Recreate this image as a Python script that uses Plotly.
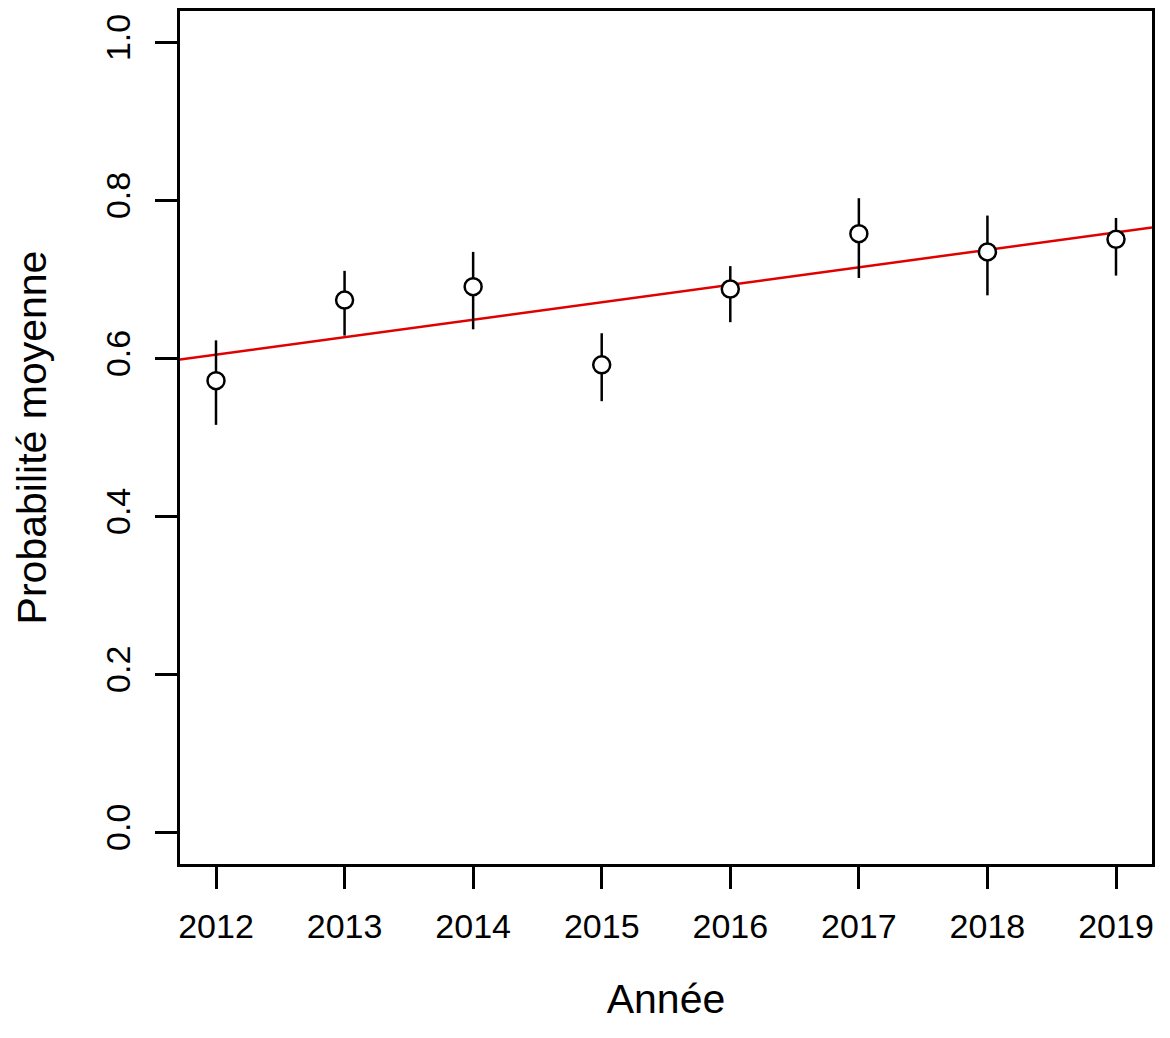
import plotly.graph_objects as go

# Mean probability per year, with lower / upper bounds of the interval
years = [2012, 2013, 2014, 2015, 2016, 2017, 2018, 2019]
prob_mean = [0.572, 0.674, 0.691, 0.592, 0.688, 0.758, 0.735, 0.751]
prob_low = [0.516, 0.629, 0.637, 0.546, 0.646, 0.702, 0.680, 0.705]
prob_high = [0.623, 0.711, 0.735, 0.632, 0.717, 0.803, 0.781, 0.778]

# Linear trend (fitted line) drawn across the whole x range
trend_at_2012 = 0.605
trend_slope = 0.0221

y_ticks = [0.0, 0.2, 0.4, 0.6, 0.8, 1.0]
y_tick_labels = ["0.0", "0.2", "0.4", "0.6", "0.8", "1.0"]

X_RANGE = [2011.72, 2019.28]
Y_RANGE = [-0.04, 1.04]

FONT = "Liberation Sans, Arial, sans-serif"

fig = go.Figure()

trend_x = X_RANGE
trend_y = [trend_at_2012 + trend_slope * (x - 2012) for x in trend_x]
fig.add_trace(go.Scatter(
    x=trend_x, y=trend_y, mode="lines",
    line=dict(color="#e00000", width=2.5),
    hoverinfo="skip",
))

fig.add_trace(go.Scatter(
    x=years, y=prob_mean, mode="markers",
    marker=dict(symbol="circle", size=17, color="white",
                line=dict(color="black", width=2.5)),
    error_y=dict(
        type="data", symmetric=False,
        array=[h - m for h, m in zip(prob_high, prob_mean)],
        arrayminus=[m - l for m, l in zip(prob_mean, prob_low)],
        color="black", thickness=2.5, width=0,
    ),
))

# page body keeps its default 8px margin, so the figure is a bit smaller
fig.update_layout(
    width=1154, height=1022,
    margin=dict(l=172, r=10, t=0, b=166),
    paper_bgcolor="white", plot_bgcolor="white",
    showlegend=False,
    font=dict(family=FONT, size=34, color="black"),
)

fig.update_xaxes(
    range=X_RANGE, tickvals=years, ticktext=[str(y) for y in years],
    ticks="outside", ticklen=22, tickwidth=2.5, tickcolor="black",
    showline=True, linecolor="black", linewidth=2.5, mirror=True,
    showgrid=False, zeroline=False,
    ticklabelstandoff=8,
    title=dict(text="Année", standoff=41),
)
fig.update_yaxes(
    range=Y_RANGE, tickvals=y_ticks, ticktext=y_tick_labels,
    tickangle=-90,
    ticks="outside", ticklen=22, tickwidth=2.5, tickcolor="black",
    showline=True, linecolor="black", linewidth=2.5, mirror=True,
    showgrid=False, zeroline=False,
    ticklabelstandoff=12,
    title=dict(text="Probabilité moyenne", standoff=40),
)

fig.write_html("out.html")
